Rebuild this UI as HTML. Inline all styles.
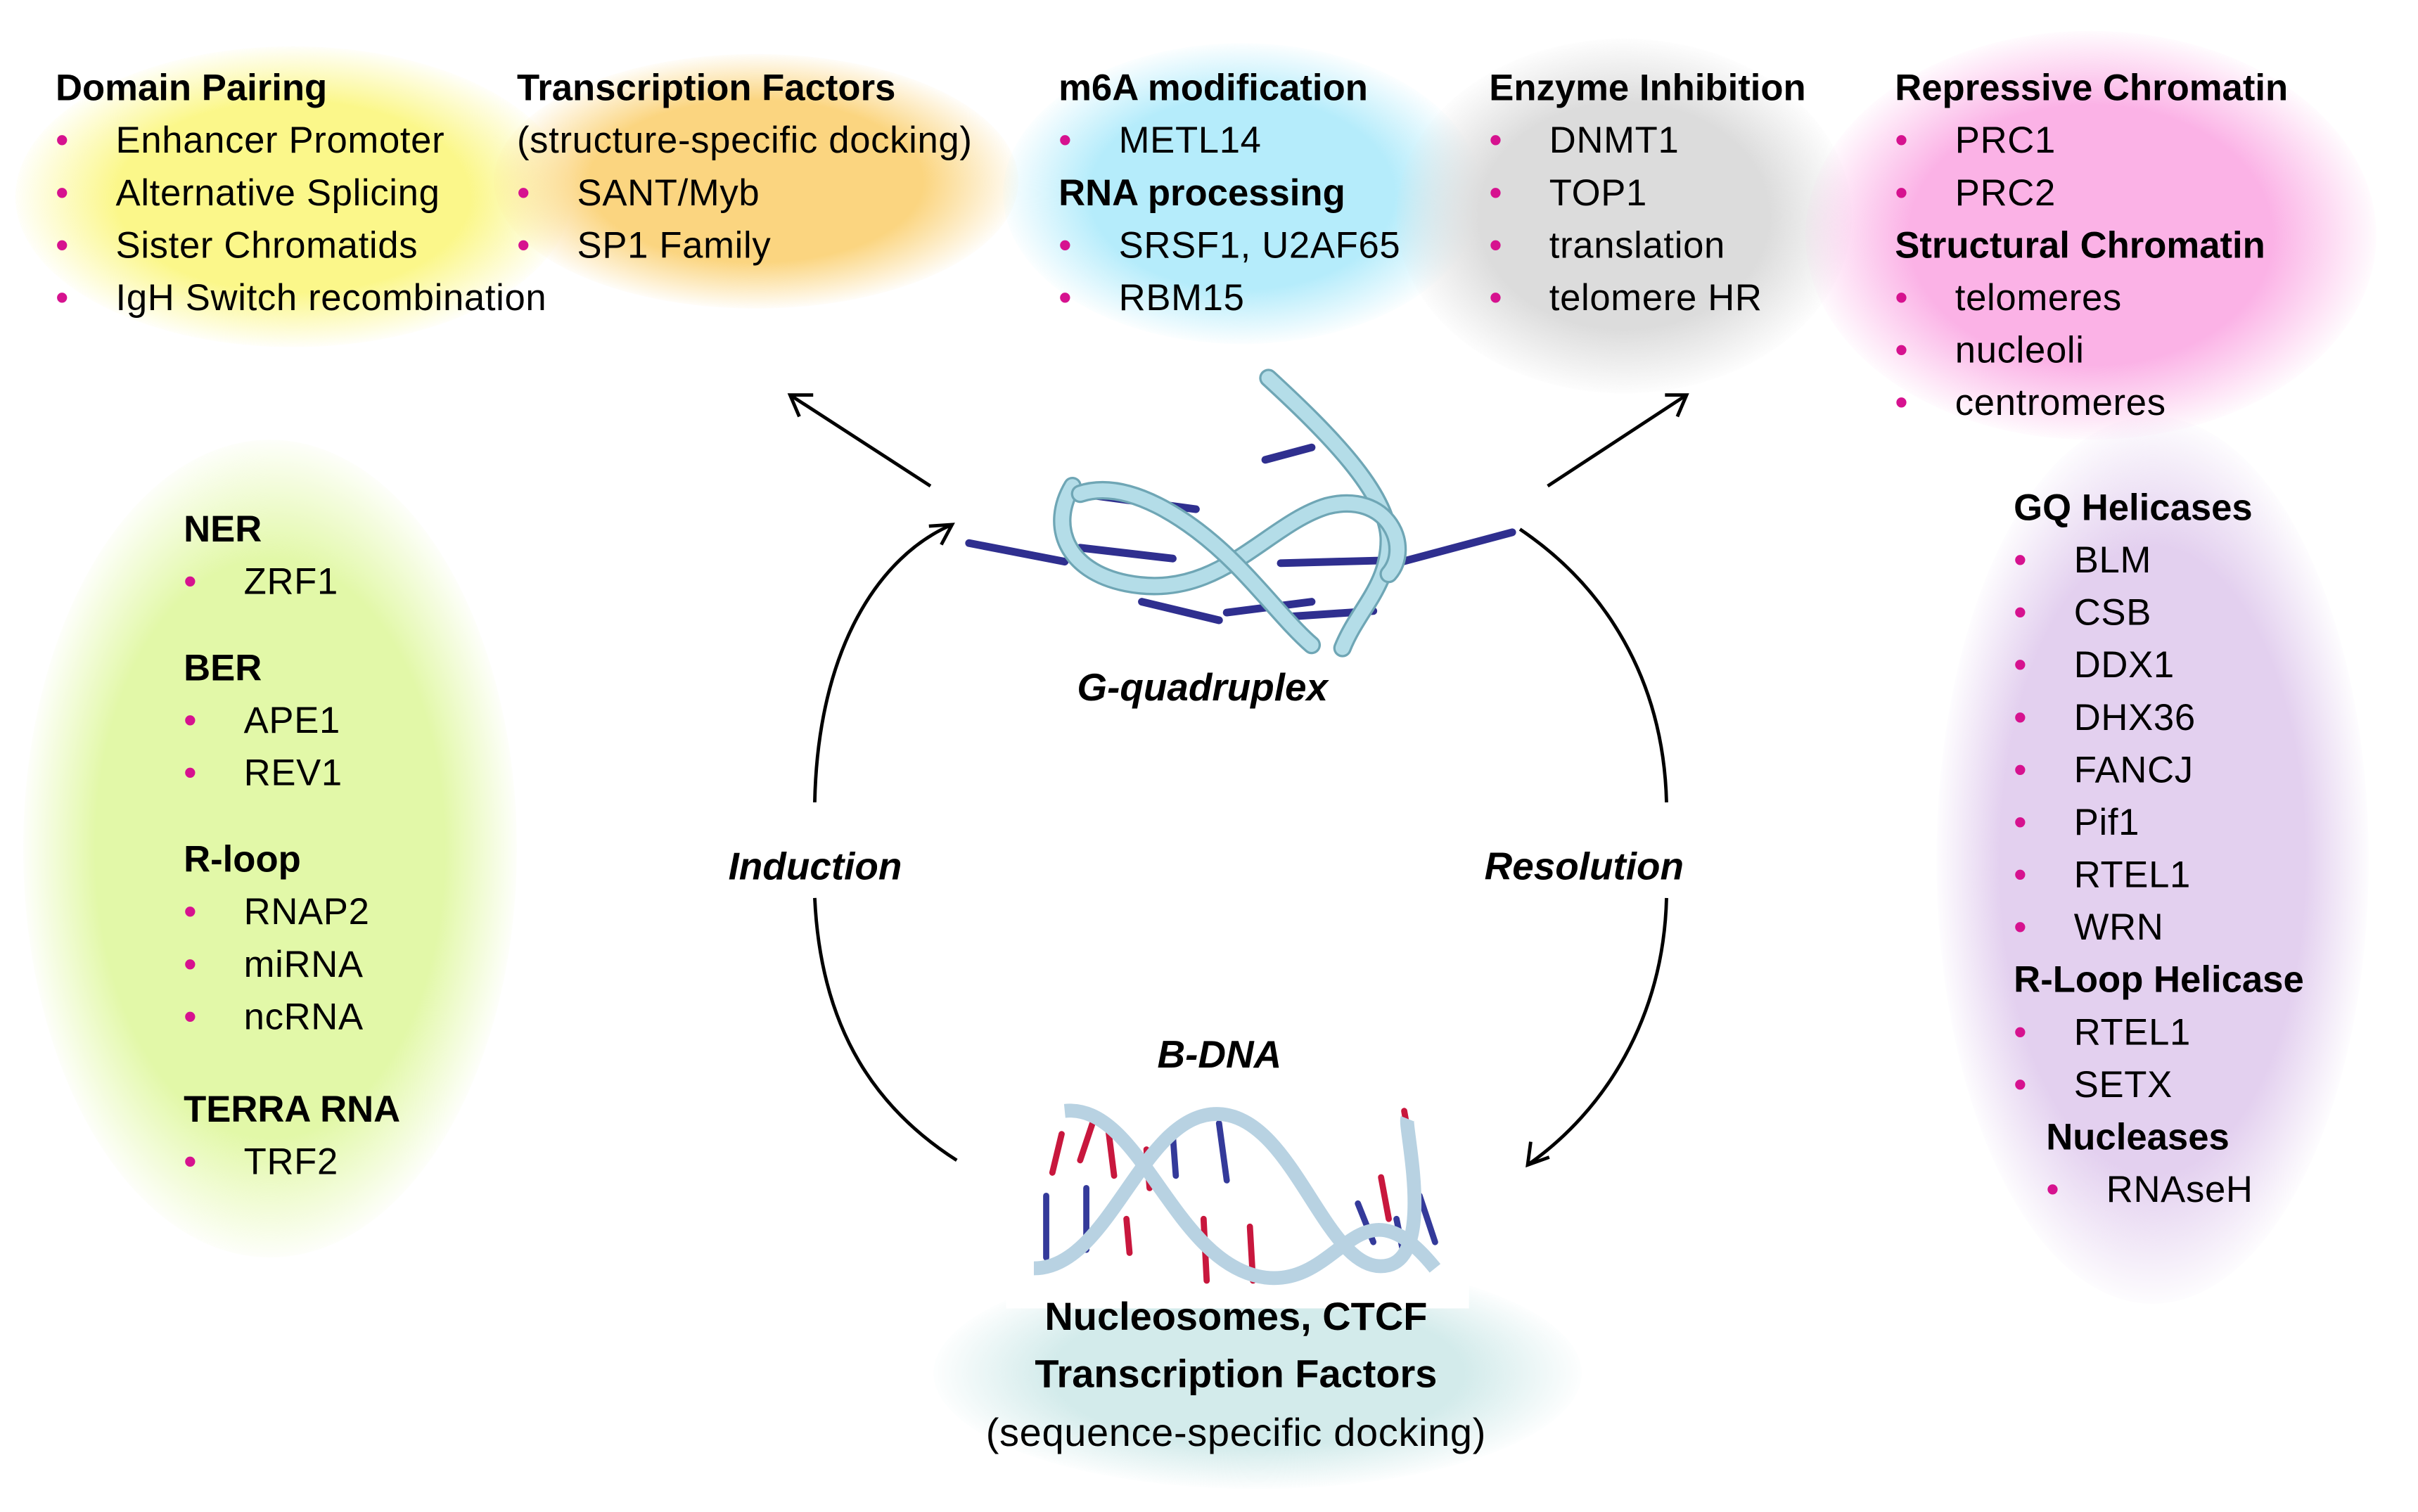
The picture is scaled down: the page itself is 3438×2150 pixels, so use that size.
<!DOCTYPE html>
<html><head><meta charset="utf-8"><style>
html,body{margin:0;padding:0;background:#fff;width:3438px;height:2142px;overflow:hidden}
#c{position:absolute;left:0;top:0;width:1570px;height:980px;transform:scale(2.194);transform-origin:0 0;font-family:"Liberation Sans",sans-serif;color:#000}
.blob{position:absolute;border-radius:50%}
.t{position:absolute;font-size:24px;letter-spacing:0.3px;line-height:34px;white-space:nowrap}
.t div{position:relative}
.b{font-weight:bold;letter-spacing:0}
.li{padding-left:39px}
.li:before{content:"•";color:#d6128f;position:absolute;left:0}
.lbl{position:absolute;font-weight:bold;font-style:italic;font-size:25px;white-space:nowrap}
</style></head><body><div id="c">
<div class="blob" style="left:10px;top:30px;width:360px;height:195px;background:radial-gradient(ellipse at center,#fbf78a 45%,rgba(253,250,170,0) 72%)"></div>
<div class="blob" style="left:320px;top:35px;width:340px;height:165px;background:radial-gradient(ellipse at center,#fbd580 45%,rgba(251,220,150,0) 72%)"></div>
<div class="blob" style="left:650px;top:28px;width:310px;height:195px;background:radial-gradient(ellipse at center,#b5ecfb 45%,rgba(190,238,252,0) 72%)"></div>
<div class="blob" style="left:905px;top:25px;width:295px;height:230px;background:radial-gradient(ellipse at center,#dcdcdc 45%,rgba(225,225,225,0) 72%)"></div>
<div class="blob" style="left:1170px;top:20px;width:370px;height:265px;background:radial-gradient(ellipse at center,#fbb2e6 45%,rgba(251,185,232,0) 72%)"></div>
<div class="blob" style="left:15px;top:285px;width:320px;height:530px;background:radial-gradient(ellipse at center,#e2f8a8 50%,rgba(228,249,176,0) 72%)"></div>
<div class="blob" style="left:1255px;top:270px;width:280px;height:575px;background:radial-gradient(ellipse at center,#e3d0ef 50%,rgba(229,211,240,0) 72%)"></div>
<div class="blob" style="left:605px;top:815px;width:420px;height:150px;background:radial-gradient(ellipse at center,#d3ebeb 45%,rgba(213,236,236,0) 72%)"></div>
<div style="position:absolute;left:652px;top:800px;width:300px;height:48px;background:#fff"></div>

<div class="t" style="left:36px;top:41px"><div class="b">Domain Pairing</div><div class="li">Enhancer Promoter</div><div class="li">Alternative Splicing</div><div class="li">Sister Chromatids</div><div class="li">IgH Switch recombination</div></div>
<div class="t" style="left:335px;top:41px"><div class="b">Transcription Factors</div><div>(structure-specific docking)</div><div class="li">SANT/Myb</div><div class="li">SP1 Family</div></div>
<div class="t" style="left:686px;top:41px"><div class="b">m6A modification</div><div class="li">METL14</div><div class="b">RNA processing</div><div class="li">SRSF1, U2AF65</div><div class="li">RBM15</div></div>
<div class="t" style="left:965px;top:41px"><div class="b">Enzyme Inhibition</div><div class="li">DNMT1</div><div class="li">TOP1</div><div class="li">translation</div><div class="li">telomere HR</div></div>
<div class="t" style="left:1228px;top:41px"><div class="b">Repressive Chromatin</div><div class="li">PRC1</div><div class="li">PRC2</div><div class="b">Structural Chromatin</div><div class="li">telomeres</div><div class="li">nucleoli</div><div class="li">centromeres</div></div>
<div class="t" style="left:119px;top:327px"><div class="b">NER</div><div class="li">ZRF1</div><div style="height:22px"></div><div class="b">BER</div><div class="li">APE1</div><div class="li">REV1</div><div style="height:22px"></div><div class="b">R-loop</div><div class="li">RNAP2</div><div class="li">miRNA</div><div class="li">ncRNA</div><div style="height:26px"></div><div class="b">TERRA RNA</div><div class="li">TRF2</div></div>
<div class="t" style="left:1305px;top:313px"><div class="b">GQ Helicases</div><div class="li">BLM</div><div class="li">CSB</div><div class="li">DDX1</div><div class="li">DHX36</div><div class="li">FANCJ</div><div class="li">Pif1</div><div class="li">RTEL1</div><div class="li">WRN</div><div class="b">R-Loop Helicase</div><div class="li">RTEL1</div><div class="li">SETX</div><div class="b" style="left:21px">Nucleases</div><div class="li" style="left:21px">RNAseH</div></div>

<div class="t b" style="left:606px;top:836px;width:390px;text-align:center;font-size:25.5px;line-height:37px">Nucleosomes, CTCF<br>Transcription Factors</div>
<div class="t" style="left:606px;top:912px;width:390px;text-align:center;font-size:25.5px">(sequence-specific docking)</div>

<div class="lbl" style="left:698px;top:432px">G-quadruplex</div>
<div class="lbl" style="left:750px;top:670px">B-DNA</div>
<div class="lbl" style="left:472px;top:548px">Induction</div>
<div class="lbl" style="left:962px;top:548px">Resolution</div>

<svg style="position:absolute;left:0;top:0" width="1570" height="980" viewBox="0 0 1570 980">
<g fill="none" stroke="#000" stroke-width="2.2">
<line x1="603" y1="315" x2="512" y2="256"/><polyline points="527,256 512,256 518,270"/>
<line x1="1003" y1="315" x2="1093" y2="256"/><polyline points="1079,256 1093,256 1087,270"/>
<path d="M528,520 C530,420 570,360 617,340"/><polyline points="602,341 617,340 610,353"/>
<path d="M528,582 C532,670 570,720 620,752"/>
<path d="M985,343 C1040,380 1078,440 1080,520"/>
<path d="M1080,582 C1078,660 1040,720 990,755"/><polyline points="992,740 990,755 1004,750"/>
</g>
<!-- G-quadruplex -->
<g stroke="#2f2f8f" stroke-width="5" stroke-linecap="round">
<line x1="628" y1="352" x2="690" y2="364"/><line x1="700" y1="320" x2="775" y2="330"/>
<line x1="820" y1="298" x2="850" y2="290"/><line x1="700" y1="355" x2="760" y2="362"/>
<line x1="830" y1="365" x2="905" y2="363"/><line x1="905" y1="365" x2="980" y2="345"/>
<line x1="740" y1="390" x2="790" y2="402"/><line x1="795" y1="397" x2="850" y2="390"/>
<line x1="830" y1="400" x2="890" y2="396"/>
</g>
<g fill="none" stroke-linecap="round">
<path d="M822,245 C860,280 900,320 900,350 C900,380 880,395 870,420" stroke="#6fa6b5" stroke-width="12"/>
<path d="M822,245 C860,280 900,320 900,350 C900,380 880,395 870,420" stroke="#b4dde8" stroke-width="9"/>
<path d="M695,315 C680,340 690,370 730,378 C790,390 820,340 860,328 C900,318 915,355 900,372" stroke="#6fa6b5" stroke-width="12"/>
<path d="M695,315 C680,340 690,370 730,378 C790,390 820,340 860,328 C900,318 915,355 900,372" stroke="#b4dde8" stroke-width="9"/>
<path d="M700,320 C730,310 770,335 800,365 C820,385 835,405 850,418" stroke="#6fa6b5" stroke-width="12"/>
<path d="M700,320 C730,310 770,335 800,365 C820,385 835,405 850,418" stroke="#b4dde8" stroke-width="9"/>
</g>
<!-- B-DNA -->
<g stroke-width="4" stroke-linecap="round">
<g stroke="#c8173d"><line x1="688" y1="735" x2="682" y2="760"/><line x1="708" y1="728" x2="700" y2="752"/><line x1="718" y1="730" x2="722" y2="762"/><line x1="743" y1="745" x2="745" y2="770"/><line x1="730" y1="790" x2="732" y2="812"/><line x1="780" y1="790" x2="782" y2="830"/><line x1="810" y1="795" x2="812" y2="830"/><line x1="895" y1="763" x2="900" y2="790"/><line x1="910" y1="720" x2="915" y2="748"/></g>
<g stroke="#343a9a"><line x1="678" y1="775" x2="678" y2="815"/><line x1="704" y1="770" x2="704" y2="810"/><line x1="760" y1="735" x2="762" y2="762"/><line x1="790" y1="728" x2="795" y2="765"/><line x1="880" y1="780" x2="890" y2="805"/><line x1="905" y1="790" x2="910" y2="815"/><line x1="920" y1="775" x2="930" y2="805"/></g>
</g>
<g fill="none" stroke="#b8d2e2" stroke-width="9">
<path d="M670,822 C720,822 740,720 790,722 C840,724 860,830 900,820 C930,812 910,730 912,725"/>
<path d="M690,720 C740,715 760,820 820,828 C870,834 880,760 930,822"/>
</g>
</svg>
</div></body></html>
